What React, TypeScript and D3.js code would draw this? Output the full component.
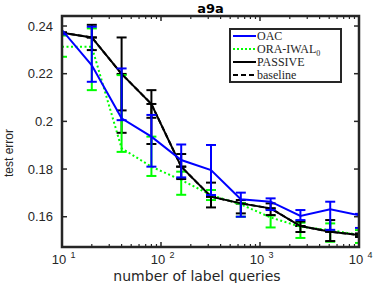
import React from "react";
import { scaleLog, scaleLinear, line } from "d3";

// label queries (x) and the four series
const queries = [10, 20, 40, 80, 160, 320, 640, 1280, 2560, 5120, 10240];

const oacMean = [0.2383, 0.2235, 0.2013, 0.1936, 0.1838, 0.1796, 0.1673, 0.1663, 0.1603, 0.1631, 0.1605];
const oacLo = [0.2365, 0.2166, 0.2005, 0.181, 0.1765, 0.1691, 0.16, 0.1628, 0.1586, 0.1545, 0.1553];
const oacHi = [0.246, 0.2397, 0.2222, 0.2027, 0.1903, 0.1901, 0.1701, 0.1677, 0.1628, 0.1663, 0.1612];

const oraMean = [0.2313, 0.2313, 0.1887, 0.181, 0.1754, 0.1691, 0.1652, 0.1597, 0.1558, 0.1544, 0.1523];
const oraLo = [0.2271, 0.2131, 0.1872, 0.1771, 0.1692, 0.167, 0.16, 0.1555, 0.1511, 0.1495, 0.149];
const oraHi = [0.236, 0.239, 0.2194, 0.1936, 0.1789, 0.1712, 0.1656, 0.1605, 0.1575, 0.1572, 0.1544];

const passiveMean = [0.2372, 0.2352, 0.2199, 0.2073, 0.181, 0.1684, 0.1656, 0.1635, 0.1561, 0.1537, 0.1523];
const passiveLo = [0.2372, 0.2299, 0.2046, 0.2015, 0.1758, 0.1639, 0.1614, 0.1607, 0.1536, 0.1498, 0.1515];
const passiveHi = [0.2372, 0.2405, 0.2352, 0.2131, 0.1863, 0.1743, 0.167, 0.1656, 0.158, 0.1586, 0.153];

const baselineMean = [0.2372, 0.2352, 0.2199, 0.2073, 0.181, 0.1684, 0.1656, 0.1635, 0.1561, 0.1537, 0.1523];
const baselineLo = [0.2372, 0.2352, 0.1952, 0.1905, 0.181, 0.1684, 0.1656, 0.1635, 0.1561, 0.1537, 0.1523];

const yTicks = [0.16, 0.18, 0.2, 0.22, 0.24];
const xTicks = [10, 100, 1000, 10000];
const xTickExp = ["1", "2", "3", "4"];

const legendItems = [
  { label: "OAC", color: "#0000ff", dash: "none", sub: "" },
  { label: "ORA-IWAL", color: "#00ff00", dash: "2,2", sub: "0" },
  { label: "PASSIVE", color: "#000000", dash: "none", sub: "" },
  { label: "baseline", color: "#000000", dash: "5,3", sub: "" },
];

const left = 62, right = 359, top = 16, bottom = 247;

export default function App() {
  const x = scaleLog().domain([10, 10000]).range([left, right]);
  const y = scaleLinear().domain([0.1473, 0.2442]).range([bottom, top]);

  const lineGen = line<number>()
    .x((_, i) => x(queries[i]))
    .y((d) => y(d));

  const minor: number[] = [];
  for (let e = 1; e < 4; e++) for (let k = 2; k < 10; k++) minor.push(k * Math.pow(10, e));

  const series = [
    { mean: baselineMean, lo: baselineLo, hi: baselineMean, color: "#000000", dash: "5,3" },
    { mean: oraMean, lo: oraLo, hi: oraHi, color: "#00ff00", dash: "2,2.5" },
    { mean: passiveMean, lo: passiveLo, hi: passiveHi, color: "#000000", dash: "none" },
    { mean: oacMean, lo: oacLo, hi: oacHi, color: "#0000ff", dash: "none" },
  ];

  const axisColor = "#262626";
  const font = "'Liberation Sans', Arial, sans-serif";
  const wide = "'DejaVu Sans', sans-serif";

  return (
    <svg width={374} height={283} style={{ position: "absolute", left: 0, top: 0 }}>
      <rect width={374} height={283} fill="#fff" />
      <defs>
        <clipPath id="plot">
          <rect x={left} y={top} width={right - left} height={bottom - top} />
        </clipPath>
      </defs>

      <g clipPath="url(#plot)">
        {series.map((s, si) => (
          <g key={si}>
            <path d={lineGen(s.mean) || ""} fill="none" stroke={s.color} strokeWidth={2} strokeDasharray={s.dash} />
            {queries.map((q, i) => {
              const cx = x(q);
              return (
                <g key={i} stroke={s.color} strokeWidth={2}>
                  <line x1={cx} x2={cx} y1={y(s.lo[i])} y2={y(s.hi[i])} />
                  <line x1={cx - 5} x2={cx + 5} y1={y(s.lo[i])} y2={y(s.lo[i])} />
                  <line x1={cx - 5} x2={cx + 5} y1={y(s.hi[i])} y2={y(s.hi[i])} />
                </g>
              );
            })}
          </g>
        ))}
      </g>

      {/* axes box and ticks */}
      <rect x={left} y={top} width={right - left} height={bottom - top} fill="none" stroke={axisColor} strokeWidth={2.5} />
      {yTicks.map((t) => (
        <g key={t}>
          <line x1={left} x2={left + 5} y1={y(t)} y2={y(t)} stroke={axisColor} strokeWidth={1.5} />
          <line x1={right} x2={right - 5} y1={y(t)} y2={y(t)} stroke={axisColor} strokeWidth={1.5} />
          <text x={left - 9} y={y(t)} dy="0.35em" textAnchor="end" fontFamily={font} fontSize={13} fill={axisColor}>
            {String(t)}
          </text>
        </g>
      ))}
      {minor.map((m) => (
        <g key={m} stroke={axisColor} strokeWidth={1.2}>
          <line x1={x(m)} x2={x(m)} y1={bottom} y2={bottom - 3} />
          <line x1={x(m)} x2={x(m)} y1={top} y2={top + 3} />
        </g>
      ))}
      {xTicks.map((t, i) => (
        <g key={t}>
          <line x1={x(t)} x2={x(t)} y1={bottom} y2={bottom - 5} stroke={axisColor} strokeWidth={1.5} />
          <line x1={x(t)} x2={x(t)} y1={top} y2={top + 5} stroke={axisColor} strokeWidth={1.5} />
          <text x={x(t) - 3} y={264} textAnchor="middle" fontFamily={font} fontSize={13} fill={axisColor}>
            10
          </text>
          <text x={x(t) + 11} y={258} textAnchor="middle" fontFamily={font} fontSize={9} fill={axisColor}>
            {xTickExp[i]}
          </text>
        </g>
      ))}

      <text x={(left + right) / 2} y={13} textAnchor="middle" fontFamily={wide} fontWeight="bold" fontSize={13} fill="#000">
        a9a
      </text>
      <text x={197} y={281} textAnchor="middle" fontFamily={wide} fontSize={14} fill={axisColor}>
        number of label queries
      </text>
      <text transform="translate(13,153) rotate(-90)" textAnchor="middle" fontFamily="'Liberation Sans Narrow', 'Liberation Sans', sans-serif" fontSize={12} fill={axisColor}>
        test error
      </text>

      {/* legend */}
      <rect x={230} y={29} width={111} height={53} fill="#fff" stroke={axisColor} strokeWidth={2} />
      {legendItems.map((it, i) => {
        const ly = 36 + i * 13;
        return (
          <g key={it.label}>
            <line x1={233} x2={256} y1={ly} y2={ly} stroke={it.color} strokeWidth={2} strokeDasharray={it.dash} />
            <text x={257} y={ly} dy="0.35em" fontFamily="'Liberation Serif', 'Times New Roman', serif" fontSize={12} fill={axisColor}>
              {it.label}
              {it.sub && (
                <tspan fontSize={8} dy="3">
                  {it.sub}
                </tspan>
              )}
            </text>
          </g>
        );
      })}
    </svg>
  );
}
